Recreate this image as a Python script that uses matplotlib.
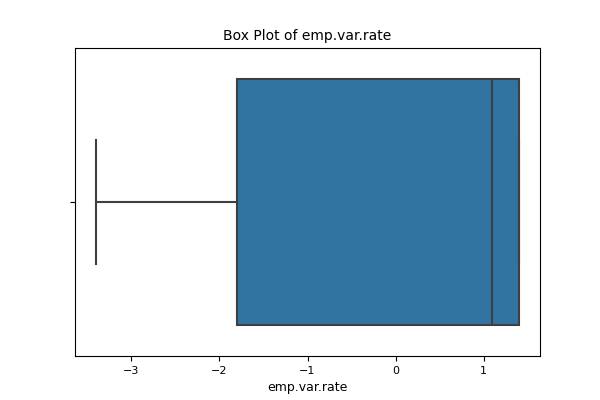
import matplotlib
matplotlib.use("Agg")
import matplotlib.pyplot as plt

# summary stats of emp.var.rate
stat_min = -3.4
stat_q1 = -1.8
stat_med = 1.1
stat_q3 = 1.4
stat_max = 1.4

stats = [{"whislo": stat_min, "q1": stat_q1, "med": stat_med,
          "q3": stat_q3, "whishi": stat_max, "fliers": [], "label": ""}]

fig, ax = plt.subplots(figsize=(6, 4), dpi=100)
line = dict(color="#3f3f3f", linewidth=1.5)
ax.bxp(stats, positions=[0], widths=0.8, vert=False, patch_artist=True,
       boxprops=dict(facecolor="#3274a1", edgecolor="#3f3f3f", linewidth=1.5),
       medianprops=line, whiskerprops=line, capprops=line, capwidths=0.4)
ax.set_ylim(0.5, -0.5)
ax.set_yticks([0])
ax.set_yticklabels([""])
ax.tick_params(labelsize=8)
ax.set_xlabel("emp.var.rate", fontsize=9)
ax.set_title("Box Plot of emp.var.rate", fontsize=10)
ax.margins(x=0.05)
fig.savefig("out.png")
